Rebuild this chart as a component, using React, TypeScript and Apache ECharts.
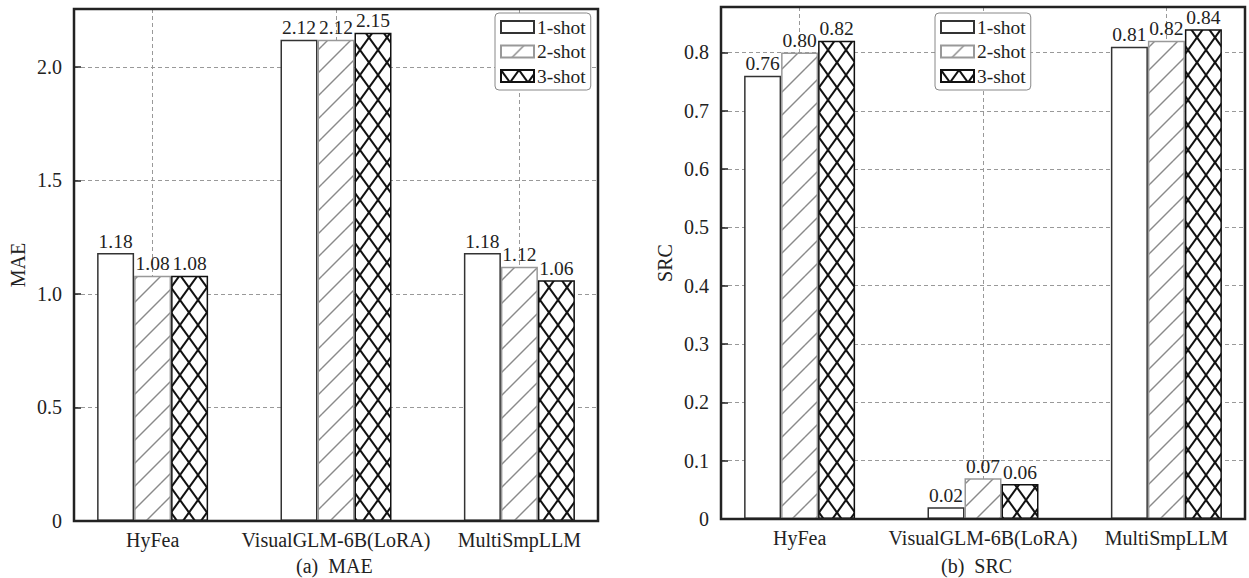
import React, { useEffect, useRef } from "react";
import * as echarts from "echarts";

const categories = ["HyFea", "VisualGLM-6B(LoRA)", "MultiSmpLLM"];
const seriesNames = ["1-shot", "2-shot", "3-shot"];
const maeValues = [
  [1.18, 2.12, 1.18],
  [1.08, 2.12, 1.12],
  [1.08, 2.15, 1.06],
];
const srcValues = [
  [0.76, 0.02, 0.81],
  [0.8, 0.07, 0.82],
  [0.82, 0.06, 0.84],
];
const maeTicks = { min: 0, max: 2.255, interval: 0.5 };
const srcTicks = { min: 0, max: 0.878, interval: 0.1 };

// slot layout: 21 evenly spaced ticks, bars at 3, 10, 17
const SLOTS = 21;
const POS = [3, 10, 17];

const FONT = "'Liberation Serif', 'Times New Roman', serif";
const TXT = "#222";

function makePattern(kind: string): HTMLCanvasElement {
  const c = document.createElement("canvas");
  const w = kind === "slash" ? 23 : 18;
  const h = kind === "slash" ? 23 : 25;
  c.width = w;
  c.height = h;
  const ctx = c.getContext("2d")!;
  ctx.fillStyle = "#fff";
  ctx.fillRect(0, 0, w, h);
  ctx.lineWidth = kind === "slash" ? 1.4 : 2;
  ctx.strokeStyle = kind === "slash" ? "#8a8a8a" : "#111";
  for (let dx = -1; dx <= 1; dx++) {
    for (let dy = -1; dy <= 1; dy++) {
      const ox = dx * w;
      const oy = dy * h;
      ctx.beginPath();
      ctx.moveTo(ox, oy + h);
      ctx.lineTo(ox + w, oy);
      ctx.stroke();
      if (kind === "cross") {
        ctx.beginPath();
        ctx.moveTo(ox, oy);
        ctx.lineTo(ox + w, oy + h);
        ctx.stroke();
      }
    }
  }
  return c;
}

export default function App() {
  const ref = useRef<HTMLDivElement>(null);
  useEffect(() => {
    if (!ref.current) return;
    const chart = echarts.init(ref.current, null, { renderer: "svg" });
    const slash = makePattern("slash");
    const cross = makePattern("cross");
    const styles = [
      { color: "#fff", borderColor: "#333", borderWidth: 1.5 },
      { color: { image: slash, repeat: "repeat" }, borderColor: "#999", borderWidth: 1.5 },
      { color: { image: cross, repeat: "repeat" }, borderColor: "#111", borderWidth: 1.5 },
    ];
    const axisData = Array.from({ length: SLOTS }, (_, i) => {
      const k = POS.indexOf(i);
      return k >= 0 ? categories[k] : "";
    });
    const spread = (vals: number[]) =>
      Array.from({ length: SLOTS }, (_, i) => {
        const k = POS.indexOf(i);
        return k >= 0 ? vals[k] : null;
      });
    const grids = [
      { left: 74, top: 9, width: 524, height: 512 },
      { left: 721, top: 7, width: 524, height: 512 },
    ];
    const xAxis = [0, 1].map((g) => ({
      type: "category",
      gridIndex: g,
      data: axisData,
      boundaryGap: false,
      axisLine: { lineStyle: { color: TXT, width: 2 } },
      axisTick: { show: false },
      axisLabel: {
        interval: 0,
        color: TXT,
        fontFamily: FONT,
        fontSize: 20,
        margin: 9,
      },
      splitLine: {
        show: true,
        interval: (idx: number) => POS.indexOf(idx) >= 0,
        lineStyle: { color: "#999", type: [4, 3], width: 1 },
      },
    }));
    const yCfg = [
      { t: maeTicks, name: "MAE" },
      { t: srcTicks, name: "SRC" },
    ];
    const yAxis = yCfg.map((c, g) => ({
      type: "value",
      gridIndex: g,
      min: c.t.min,
      max: c.t.max,
      interval: c.t.interval,
      name: c.name,
      nameLocation: "middle",
      nameGap: 46,
      nameTextStyle: { color: TXT, fontFamily: FONT, fontSize: 20 },
      axisLine: { show: true, lineStyle: { color: TXT, width: 2 } },
      axisTick: { show: true, inside: true, length: 7, lineStyle: { color: TXT, width: 1.5 } },
      axisLabel: {
        color: TXT,
        fontFamily: FONT,
        fontSize: 20,
        margin: 12,
        showMaxLabel: false,
        formatter: (v: number) => (v === 0 ? "0" : v.toFixed(1)),
      },
      splitLine: { show: true, lineStyle: { color: "#999", type: [4, 3], width: 1 } },
    }));
    const series: any[] = [];
    [maeValues, srcValues].forEach((vals, g) => {
      vals.forEach((arr, s) => {
        series.push({
          type: "bar",
          name: seriesNames[s],
          xAxisIndex: g,
          yAxisIndex: g,
          data: spread(arr),
          barWidth: 37,
          barGap: "0%",
          itemStyle: styles[s],
          label: {
            show: true,
            position: "top",
            distance: 2,
            color: TXT,
            fontFamily: FONT,
            fontSize: 19.5,
            formatter: (p: any) => (p.value == null ? "" : Number(p.value).toFixed(2)),
          },
        });
      });
    });
    const legendBase = {
      orient: "vertical",
      top: 13,
      data: seriesNames,
      icon: "rect",
      itemWidth: 33,
      itemHeight: 12,
      itemGap: 4.5,
      padding: [4, 5, 4, 5],
      borderColor: "#888",
      borderWidth: 1,
      borderRadius: 4,
      backgroundColor: "#fff",
      selectedMode: false,
      z: 20,
      textStyle: { color: TXT, fontFamily: FONT, fontSize: 19.5, lineHeight: 19, padding: [0, 0, 0, -2] },
    };
    const frames = grids.map((g) => ({
      type: "rect",
      z: 100,
      silent: true,
      shape: { x: g.left, y: g.top, width: g.width, height: g.height },
      style: { fill: "none", stroke: TXT, lineWidth: 2.5 },
    }));
    chart.setOption({
      animation: false,
      backgroundColor: "#fff",
      grid: grids.map((g) => ({ ...g, show: true, borderColor: TXT, borderWidth: 0, backgroundColor: "#fff" })),
      xAxis,
      yAxis,
      legend: [
        { ...legendBase, left: 495 },
        { ...legendBase, left: 935 },
      ],
      graphic: [
        ...frames,
        {
          type: "text",
          left: 296,
          top: 556,
          style: { text: "(a)  MAE", fill: TXT, font: `20px ${FONT}` },
        },
        {
          type: "text",
          left: 941,
          top: 556,
          style: { text: "(b)  SRC", fill: TXT, font: `20px ${FONT}` },
        },
      ],
      series,
    });
    return () => chart.dispose();
  }, []);
  return <div ref={ref} style={{ width: 1249, height: 578, position: "absolute", left: 0, top: 0 }} />;
}
